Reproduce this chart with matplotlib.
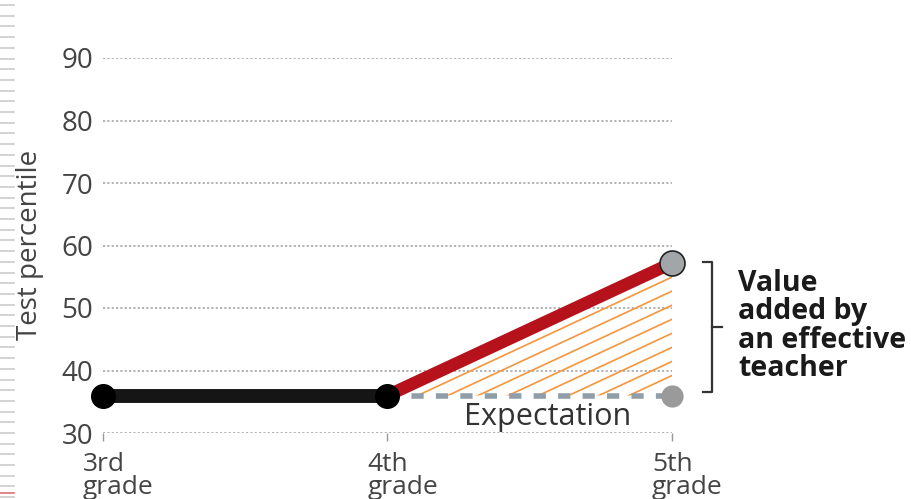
import numpy as np
import matplotlib
matplotlib.use("Agg")
import matplotlib.pyplot as plt
import matplotlib.transforms as mtransforms
from matplotlib.patches import Polygon
from matplotlib.lines import Line2D

plt.rcParams['font.family'] = ['Open Sans', 'DejaVu Sans']

# data
grades = ["3rd\ngrade", "4th\ngrade", "5th\ngrade"]
actual_scores = [36, 36, 57.2]        # 3rd -> 4th -> 5th with effective teacher
expected_scores = [36, 36]            # 4th -> 5th expectation
y_ticks = [30, 40, 50, 60, 70, 80, 90]
annotation = "Value\nadded by\nan effective\nteacher"

W, H = 912, 499
fig = plt.figure(figsize=(W / 100, H / 100), dpi=100)
ax = fig.add_axes([103 / W, (H - 433) / H, 569 / W, 375 / H])

x = np.arange(len(grades))

# grid + axis look
ax.set_xlim(0, 2)
ax.set_ylim(30, 90)
ax.set_yticks(y_ticks)
ax.set_yticklabels([str(v) for v in y_ticks], fontsize=20, color='#444444')
ax.tick_params(axis='y', length=0, pad=7)
ax.set_xticks(x)
ax.set_xticklabels([])
ax.tick_params(axis='x', length=6, width=1, color='#999999', direction='out')
ax.grid(axis='y', color='#a5a5a5', linestyle=(0, (1.3, 1.3)), linewidth=1.2)
for s in ax.spines.values():
    s.set_visible(False)

# x labels, left aligned a bit left of the tick
off = mtransforms.ScaledTranslation(-20 / 100, 0, fig.dpi_scale_trans)
for xi, lab in zip(x, grades):
    ax.text(xi, -0.05, lab, transform=ax.get_xaxis_transform() + off,
            ha='left', va='top', fontsize=19, color='#444444', linespacing=0.92)

fig.text(30 / W, 1 - 245 / H, "Test percentile", rotation=90, ha='center', va='center',
         fontsize=20, color='#444444')

# hatched triangle between actual and expected, lines parallel to the red one
tri = Polygon([[x[1], actual_scores[1]], [x[2], actual_scores[2]], [x[2], expected_scores[1]]],
              closed=True, facecolor='none', edgecolor='none', transform=ax.transData)
ax.add_patch(tri)
slope = actual_scores[2] - actual_scores[1]
xs = np.array([x[1], x[2]])
for k in range(1, 12):
    ys = actual_scores[1] + slope * (xs - x[1]) - k * 2.25
    ln, = ax.plot(xs, ys, color='#f5963c', lw=1.2, zorder=2)
    ln.set_clip_path(tri)

# expectation line
ax.plot(x[1:], expected_scores, color='#8f9ea8', lw=4, linestyle=(0, (2.2, 2.2)), zorder=3,
        solid_capstyle='butt')
ax.plot(x[2], expected_scores[1], 'o', ms=16, color='#9a9a9a', mec='none', zorder=5, clip_on=False)
ax.text(1.564, 31.3, "Expectation", ha='center', va='baseline', fontsize=22, color='#333333')

# actual path
ax.plot(x[:2], actual_scores[:2], color='#151515', lw=10, zorder=4, solid_capstyle='butt')
ax.plot(x[1:], actual_scores[1:], color='#b5121b', lw=9, zorder=4, solid_capstyle='butt')
ax.plot(x[:2], actual_scores[:2], 'o', ms=17, color='#000000', zorder=6, clip_on=False)
ax.plot(x[2], actual_scores[2], 'o', ms=18, color='#a3a6a8', mec='#222222', mew=1.2,
        zorder=6, clip_on=False)

# bracket
bt = ax.get_yaxis_transform()
top, bot = actual_scores[2] + 0.2, expected_scores[1] + 0.6
mid = (top + bot) / 2
ax.plot([1.055, 1.070, 1.070, 1.055], [top, top, bot, bot], color='#333333', lw=1.6,
        transform=bt, clip_on=False)
ax.plot([1.070, 1.088], [mid, mid], color='#333333', lw=1.6, transform=bt, clip_on=False)
ax.text(1.116, 56.3, annotation, transform=bt, ha='left', va='top', fontsize=20.5,
        fontweight='bold', color='#1a1a1a', linespacing=0.98)

# faint ruler marks at the left edge of the scan
for yy in np.arange(5, 499, 10.7):
    fig.add_artist(Line2D([0, 14 / W], [1 - yy / H] * 2, color='#cccccc', lw=1.2))
fig.add_artist(Line2D([0, 14 / W], [1 - 493 / H] * 2, color='#e07070', lw=1.2))

fig.savefig("out.png", dpi=100)
